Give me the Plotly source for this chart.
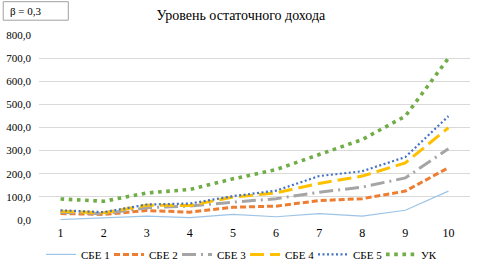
import plotly.graph_objects as go

categories = [1, 2, 3, 4, 5, 6, 7, 8, 9, 10]
sbe1 = [2, 10, 17, 10, 24, 14, 28, 17, 42, 125]
sbe2 = [28, 24, 41, 34, 55, 60, 84, 92, 125, 226]
sbe3 = [34, 27, 53, 60, 77, 92, 120, 142, 182, 308]
sbe4 = [38, 31, 64, 63, 99, 117, 158, 190, 247, 399]
sbe5 = [42, 34, 67, 71, 103, 127, 190, 211, 272, 449]
uk = [91, 81, 117, 132, 178, 218, 283, 348, 449, 700]
series_names = ["СБЕ 1", "СБЕ 2", "СБЕ 3", "СБЕ 4", "СБЕ 5", "УК"]
y_ticks = [0, 100, 200, 300, 400, 500, 600, 700, 800]
y_tick_labels = ["0,0", "100,0", "200,0", "300,0", "400,0", "500,0", "600,0", "700,0", "800,0"]

FONT = "Liberation Serif"
styles = [
    dict(color="#9DC3E6", width=1.2, dash="solid"),
    dict(color="#ED7D31", width=3, dash="6px,3px"),
    dict(color="#A5A5A5", width=3, dash="14px,5px,2px,5px"),
    dict(color="#FFC000", width=3, dash="14px,6px"),
    dict(color="#4472C4", width=2.2, dash="2px,2.5px"),
    dict(color="#70AD47", width=3.6, dash="3.6px,4.6px"),
]

fig = go.Figure()
for name, vals, st in zip(series_names, [sbe1, sbe2, sbe3, sbe4, sbe5, uk], styles):
    fig.add_trace(go.Scatter(x=categories, y=vals, mode="lines", name=name, line=st))

fig.update_layout(
    width=478, height=265,
    margin=dict(l=39, r=8, t=35, b=45, autoexpand=False),
    paper_bgcolor="white", plot_bgcolor="white",
    font=dict(family=FONT, size=11, color="#000000"),
    title=dict(text="Уровень остаточного дохода", x=0.504, xanchor="center",
               y=0.943, yanchor="middle", font=dict(family=FONT, size=14, color="#000000")),
    showlegend=True,
    legend=dict(orientation="h", x=0.478, xanchor="center", y=-0.186, yanchor="middle",
                font=dict(family=FONT, size=11), itemwidth=30, tracegroupgap=0,
                entrywidth=23, entrywidthmode="pixels",
                bgcolor="rgba(0,0,0,0)"),
    xaxis=dict(range=[0.5, 10.5], tickvals=categories, ticktext=[str(c) for c in categories],
               showgrid=False, zeroline=False, showline=False, ticks="", automargin=False,
               tickfont=dict(family=FONT, size=12), ticklabelstandoff=4),
    yaxis=dict(range=[0, 800], tickvals=y_ticks, ticktext=y_tick_labels, automargin=False,
               showgrid=True, gridcolor="#D9D9D9", gridwidth=1, zeroline=False,
               showline=False, ticks="", ticklen=0, tickfont=dict(family=FONT, size=11),
               ticklabelstandoff=7),
    shapes=[dict(type="rect", xref="paper", yref="paper", x0=-0.083, x1=0.068,
                 y0=1.08, y1=1.18, line=dict(color="#A0A0A0", width=1), fillcolor="white")],
    annotations=[dict(text="β = 0,3", xref="paper", yref="paper", x=-0.073, y=1.13,
                      xanchor="left", yanchor="middle", showarrow=False,
                      font=dict(family=FONT, size=11, color="#000000"))],
)
fig.write_html("out.html", config={"displayModeBar": False},
               post_script="document.body.style.margin='0';")
